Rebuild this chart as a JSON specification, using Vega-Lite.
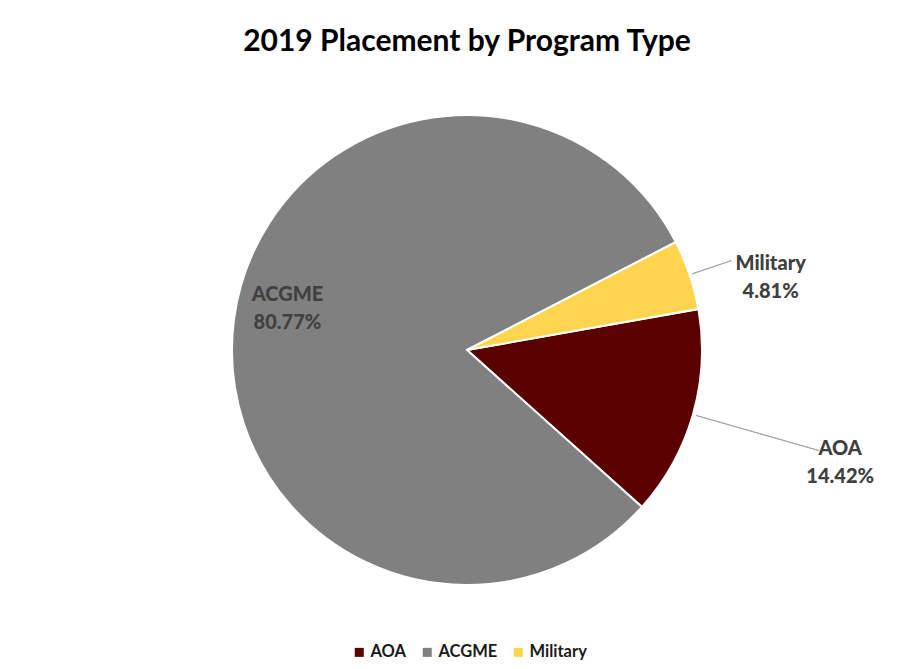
{
  "$schema": "https://vega.github.io/schema/vega-lite/v6.json",
  "width": 898,
  "height": 638,
  "padding": {"left": 18, "top": 31, "right": 0, "bottom": 0},
  "autosize": "none",
  "background": "white",
  "title": {
    "text": "2019 Placement by Program Type",
    "font": "Lato",
    "fontSize": 30,
    "fontWeight": "bold",
    "color": "#000000",
    "anchor": "middle",
    "offset": -50,
    "baseline": "alphabetic"
  },
  "data": {
    "values": [
      {"Program": "AOA", "Share": 14.42, "rank": 1, "Label": "AOA\n14.42%"},
      {"Program": "ACGME", "Share": 80.77, "rank": 2, "Label": "ACGME\n80.77%"},
      {"Program": "Military", "Share": 4.81, "rank": 3, "Label": "Military\n4.81%"}
    ]
  },
  "encoding": {
    "theta": {"field": "Share", "type": "quantitative", "stack": true, "scale": {"domain": [0, 100], "range": [1.396, 7.679]}},
    "order": {"field": "rank", "type": "quantitative", "sort": "ascending"}
  },
  "layer": [
    {
      "mark": {"type": "arc", "outerRadius": 235, "stroke": "white", "strokeWidth": 2},
      "encoding": {
        "color": {
          "field": "Program",
          "type": "nominal",
          "scale": {"domain": ["AOA", "ACGME", "Military"], "range": ["#5B0000", "#808080", "#FFD54F"]},
          "legend": {
            "title": null,
            "orient": "none",
            "direction": "horizontal",
            "legendX": 333,
            "legendY": 613,
            "symbolType": "square",
            "symbolSize": 81,
            "symbolStrokeWidth": 0,
            "labelFont": "Lato",
            "labelFontSize": 16.5,
            "labelFontWeight": "bold",
            "labelColor": "#1a1a1a",
            "labelOffset": 3,
            "columnPadding": 12,
            "padding": 0
          }
        }
      }
    },
    {
      "transform": [
        {"stack": "Share", "groupby": [], "sort": [{"field": "rank", "order": "ascending"}], "as": ["s0", "s1"]},
        {"filter": "datum.Program === 'Military'"}
      ],
      "mark": {"type": "arc", "radius": 279, "radius2": 238, "padAngle": 0.8, "fill": null, "stroke": "#A6A6A6", "strokeWidth": 1},
      "encoding": {
        "theta": {"field": "s0", "type": "quantitative", "stack": null},
        "theta2": {"field": "s1"}
      }
    },
    {
      "transform": [
        {"stack": "Share", "groupby": [], "sort": [{"field": "rank", "order": "ascending"}], "as": ["s0", "s1"]},
        {"filter": "datum.Program === 'AOA'"}
      ],
      "mark": {"type": "arc", "radius": 366, "radius2": 238, "padAngle": 0.8, "fill": null, "stroke": "#A6A6A6", "strokeWidth": 1},
      "encoding": {
        "theta": {"field": "s0", "type": "quantitative", "stack": null},
        "theta2": {"field": "s1"}
      }
    },
    {
      "mark": {"type": "text", "radius": 310, "dx": 10, "dy": 13, "font": "Lato", "fontSize": 20, "fontWeight": 900, "color": "#404040", "lineBreak": "\n", "lineHeight": 28, "align": "center", "baseline": "middle"},
      "encoding": {
        "text": {"condition": {"test": "datum.Program === 'Military'", "field": "Label"}, "value": ""}
      }
    },
    {
      "mark": {"type": "text", "radius": 385, "dx": 3, "dy": -7, "font": "Lato", "fontSize": 20, "fontWeight": 900, "color": "#404040", "lineBreak": "\n", "lineHeight": 28, "align": "center", "baseline": "middle"},
      "encoding": {
        "text": {"condition": {"test": "datum.Program === 'AOA'", "field": "Label"}, "value": ""}
      }
    },
    {
      "mark": {"type": "text", "radius": 182, "dx": 1, "dy": -32, "font": "Lato", "fontSize": 20, "fontWeight": 900, "color": "#404040", "lineBreak": "\n", "lineHeight": 28, "align": "center", "baseline": "middle"},
      "encoding": {
        "text": {"condition": {"test": "datum.Program === 'ACGME'", "field": "Label"}, "value": ""}
      }
    }
  ],
  "config": {"view": {"stroke": null}}
}
